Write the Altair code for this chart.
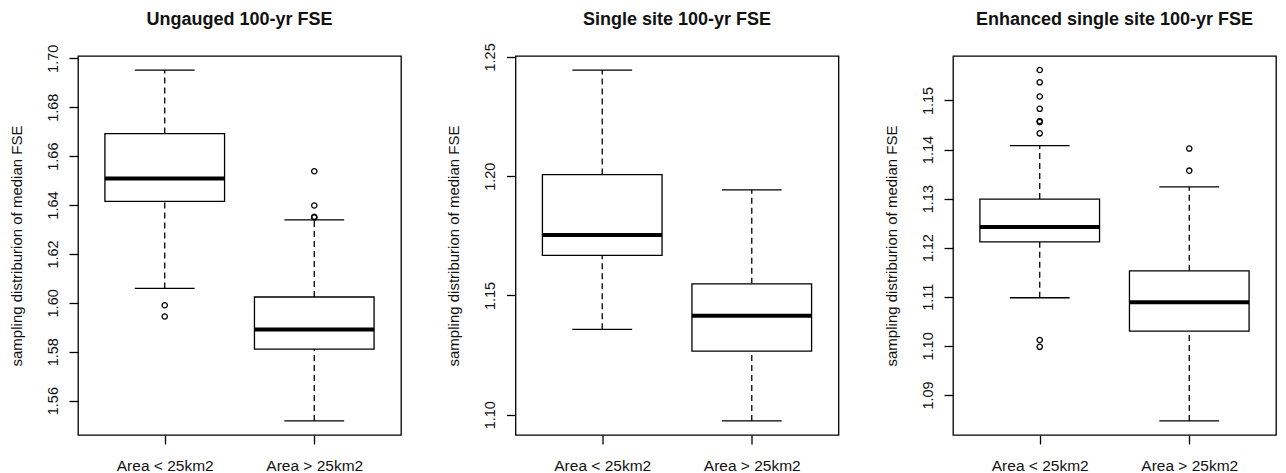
import altair as alt
import pandas as pd

categories = ["Area < 25km2", "Area > 25km2"]
titles = ["Ungauged 100-yr FSE", "Single site 100-yr FSE", "Enhanced single site 100-yr FSE"]
y_title = "sampling distriburion of median FSE"

# five-number summaries per category: lower whisker, Q1, median, Q3, upper whisker
p1_lw = [1.6059, 1.5517]
p1_q1 = [1.6415, 1.5811]
p1_med = [1.6508, 1.5891]
p1_q3 = [1.6692, 1.6024]
p1_uw = [1.6952, 1.6339]
p1_out_cat = [0, 0, 1, 1, 1, 1]
p1_out_val = [1.5990, 1.5944, 1.6538, 1.6398, 1.6352, 1.6349]
p1_ticks = [1.56, 1.58, 1.60, 1.62, 1.64, 1.66, 1.68, 1.70]

p2_lw = [1.1358, 1.0974]
p2_q1 = [1.1668, 1.1267]
p2_med = [1.1753, 1.1415]
p2_q3 = [1.2007, 1.1549]
p2_uw = [1.2445, 1.1943]
p2_out_cat = []
p2_out_val = []
p2_ticks = [1.10, 1.15, 1.20, 1.25]

p3_lw = [1.1098, 1.0847]
p3_q1 = [1.1212, 1.1030]
p3_med = [1.1242, 1.1089]
p3_q3 = [1.1299, 1.1153]
p3_uw = [1.1408, 1.1324]
p3_out_cat = [0, 0, 0, 0, 0, 0, 0, 0, 0, 1, 1]
p3_out_val = [1.1562, 1.1537, 1.1508, 1.1483, 1.1458, 1.1456, 1.1433, 1.1012, 1.0998,
              1.1402, 1.1357]
p3_ticks = [1.09, 1.10, 1.11, 1.12, 1.13, 1.14, 1.15]

FONT = "Liberation Sans"
TXT = "#111111"
LW = 1.3
label_expr = " : ".join(
    f"datum.value == {i + 1} ? '{c}'" for i, c in enumerate(categories)
) + " : ''"


def panel(title, lw, q1, med, q3, uw, out_cat, out_val, ticks, title_offset):
    df = pd.DataFrame({
        "cat": categories,
        "pos": [i + 1 for i in range(len(categories))],
        "lw": lw, "q1": q1, "med": med, "q3": q3, "uw": uw,
    })
    od = pd.DataFrame({"pos": [c + 1 for c in out_cat], "val": out_val})
    allv = lw + uw + out_val
    lo, hi = min(allv), max(allv)
    ext = (hi - lo) * 0.04
    yscale = alt.Scale(domain=[lo - ext, hi + ext], nice=False, zero=False)
    xscale = alt.Scale(domain=[0.42, len(categories) + 0.58], nice=False, zero=False)

    xaxis = alt.Axis(values=[i + 1 for i in range(len(categories))], labelExpr=label_expr,
                     title=None, grid=False, domain=False, tickColor="black", tickWidth=LW,
                     tickSize=9, labelFontSize=15.5, labelFont=FONT, labelColor=TXT,
                     labelPadding=14)
    yaxis = alt.Axis(values=ticks, format=".2f", title=y_title, grid=False, domain=False,
                     tickColor="black", tickWidth=LW, tickSize=9, labelAngle=-90,
                     labelAlign="center", labelBaseline="bottom", labelFontSize=14.5,
                     labelFont=FONT, labelColor=TXT, labelPadding=9,
                     titleFont=FONT, titleFontSize=15, titleFontWeight="normal",
                     titleColor=TXT, titlePadding=21)

    base = alt.Chart(df).transform_calculate(
        left="datum.pos - 0.4", right="datum.pos + 0.4",
        capl="datum.pos - 0.2", capr="datum.pos + 0.2")

    box = base.mark_rect(fill="white", stroke="black", strokeWidth=LW).encode(
        x=alt.X("left:Q", scale=xscale, axis=xaxis),
        x2="right:Q",
        y=alt.Y("q1:Q", scale=yscale, axis=yaxis),
        y2="q3:Q")
    median = base.mark_rule(color="black", strokeWidth=4).encode(
        x="left:Q", x2="right:Q", y="med:Q")
    wu = base.mark_rule(color="black", strokeWidth=LW, strokeDash=[6, 4]).encode(
        x="pos:Q", y="q3:Q", y2="uw:Q")
    wl = base.mark_rule(color="black", strokeWidth=LW, strokeDash=[6, 4]).encode(
        x="pos:Q", y="lw:Q", y2="q1:Q")
    cu = base.mark_rule(color="black", strokeWidth=LW).encode(
        x="capl:Q", x2="capr:Q", y="uw:Q")
    cl = base.mark_rule(color="black", strokeWidth=LW).encode(
        x="capl:Q", x2="capr:Q", y="lw:Q")
    layers = [wu, wl, cu, cl, box, median]
    if len(od):
        pts = alt.Chart(od).mark_point(shape="circle", filled=False, color="black",
                                       size=28, strokeWidth=LW, opacity=1).encode(
            x=alt.X("pos:Q", scale=xscale), y=alt.Y("val:Q", scale=yscale))
        layers.append(pts)
    return alt.layer(*layers).properties(
        width=323, height=379,
        title=alt.TitleParams(title, fontSize=18, fontWeight="bold", font=FONT,
                              anchor="middle", frame="group", color=TXT,
                              offset=title_offset))


p1 = panel(titles[0], p1_lw, p1_q1, p1_med, p1_q3, p1_uw, p1_out_cat, p1_out_val, p1_ticks, 15)
p2 = panel(titles[1], p2_lw, p2_q1, p2_med, p2_q3, p2_uw, p2_out_cat, p2_out_val, p2_ticks, 14)
p3 = panel(titles[2], p3_lw, p3_q1, p3_med, p3_q3, p3_uw, p3_out_cat, p3_out_val, p3_ticks, 27)

chart = alt.hconcat(
    p1, p2, p3, spacing=114.5, bounds="flush",
    padding={"left": 0, "top": 2, "right": 0, "bottom": 0},
).configure(background="white").configure_view(stroke="black", strokeWidth=LW)

chart.save("out.html", embed_options={"renderer": "svg", "actions": False})
